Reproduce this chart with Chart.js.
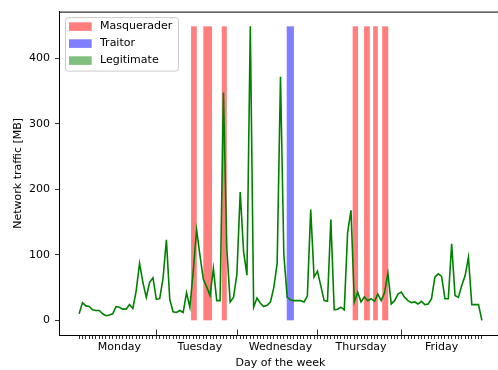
<!DOCTYPE html>
<html>
<head>
<meta charset="utf-8">
<script src="https://cdn.jsdelivr.net/npm/chart.js@4.4.1/dist/chart.umd.min.js"></script>
<style>
  html, body { margin: 0; padding: 0; background: #fff; overflow: hidden; }
  #wrap { width: 498px; height: 370px; overflow: hidden; }
</style>
</head>
<body>
<div id="wrap"><canvas id="trafficChart" width="503" height="370"></canvas></div>
<script>
// hourly traffic in MB, Monday to Friday
const traffic = [
    10, 27, 22, 21, 16, 15, 15, 10, 7, 8, 10, 21, 20, 17, 17, 24, 18, 45, 87, 58,
    35, 58, 65, 32, 33, 64, 123, 32, 13, 12, 15, 12, 42, 20, 75, 138, 99, 63, 51, 38,
    79, 30, 30, 348, 110, 28, 35, 70, 196, 105, 69, 449, 20, 34, 26, 21, 23, 28, 50, 87,
    372, 100, 35, 31, 30, 30, 30, 28, 37, 169, 66, 75, 53, 30, 29, 154, 16, 17, 20, 16,
    134, 168, 28, 43, 28, 36, 30, 33, 29, 40, 30, 42, 72, 25, 30, 40, 43, 35, 30, 27,
    28, 25, 29, 24, 25, 33, 66, 71, 67, 33, 33, 117, 38, 35, 53, 68, 96, 24, 24, 24,
    0
];
const hours = traffic.map((v, i) => i);

const dayNames = ['Monday', 'Tuesday', 'Wednesday', 'Thursday', 'Friday'];
const dayCenters = [12, 36, 60, 84, 108];
const dayBoundaries = [23, 47, 71, 96];
const yTicks = [0, 100, 200, 300, 400];

// attack windows (start hour, end hour)
const masqueraderSpans = [[33.35, 35.05], [37.0, 39.6], [42.5, 44.0], [81.5, 83.1], [84.9, 86.6], [87.6, 89.0], [90.3, 92.1]];
const traitorSpans = [[61.85, 64.0]];
const spanTop = 449;

const legendItems = [
    { label: 'Masquerader', color: 'rgba(255, 0, 0, 0.5)' },
    { label: 'Traitor', color: 'rgba(0, 0, 255, 0.5)' },
    { label: 'Legitimate', color: 'rgba(0, 128, 0, 0.5)' }
];

Chart.defaults.font.family = "'DejaVu Sans', sans-serif";
Chart.defaults.font.size = 11;
Chart.defaults.color = '#000';

const spansPlugin = {
    id: 'spans',
    beforeDatasetsDraw(chart) {
        const { ctx, chartArea, scales: { x, y } } = chart;
        ctx.save();
        ctx.beginPath();
        ctx.rect(chartArea.left, chartArea.top, chartArea.right - chartArea.left, chartArea.bottom - chartArea.top);
        ctx.clip();
        const draw = (spans, color) => {
            ctx.fillStyle = color;
            spans.forEach(([a, b]) => {
                const x1 = x.getPixelForValue(a);
                const x2 = x.getPixelForValue(b);
                const yTop = y.getPixelForValue(spanTop);
                const yBot = y.getPixelForValue(0);
                ctx.fillRect(x1, yTop, x2 - x1, yBot - yTop);
            });
        };
        draw(masqueraderSpans, legendItems[0].color);
        draw(traitorSpans, legendItems[1].color);
        ctx.restore();
    }
};

const framePlugin = {
    id: 'frame',
    afterDraw(chart) {
        const { ctx, chartArea, scales: { x } } = chart;
        ctx.save();
        ctx.strokeStyle = '#000';
        ctx.lineWidth = 1;
        // top spine (right one falls outside the picture)
        ctx.beginPath();
        ctx.moveTo(chartArea.left, chartArea.top + 0.5);
        ctx.lineTo(chartArea.right + 2, chartArea.top + 0.5);
        ctx.stroke();

        // day boundary ticks pointing inwards
        ctx.lineWidth = 0.8;
        dayBoundaries.forEach(b => {
            const px = Math.round(x.getPixelForValue(b)) + 0.5;
            ctx.beginPath();
            ctx.moveTo(px, chartArea.bottom);
            ctx.lineTo(px, chartArea.bottom - 5.5);
            ctx.stroke();
        });

        // legend box
        const bx = chartArea.left + 6, by = chartArea.top + 5.5, bw = 113, bh = 53.5;
        ctx.fillStyle = 'rgba(255, 255, 255, 0.8)';
        ctx.strokeStyle = '#cccccc';
        ctx.lineWidth = 1;
        ctx.beginPath();
        ctx.roundRect(bx + 0.5, by + 0.5, bw, bh, 3);
        ctx.fill();
        ctx.stroke();

        ctx.font = "11px 'DejaVu Sans'";
        ctx.textBaseline = 'middle';
        legendItems.forEach((item, i) => {
            const cy = by + 9.5 + i * 17;
            ctx.fillStyle = item.color;
            ctx.fillRect(bx + 4, cy - 4.3, 22.7, 8.6);
            ctx.fillStyle = '#000';
            ctx.fillText(item.label, bx + 35, cy);
        });
        ctx.restore();
    }
};

new Chart(document.getElementById('trafficChart'), {
    type: 'line',
    data: {
        labels: hours,
        datasets: [{
            label: 'Legitimate',
            data: traffic,
            borderColor: '#008000',
            borderWidth: 1.6,
            pointRadius: 0,
            tension: 0,
            fill: false
        }]
    },
    options: {
        responsive: false,
        animation: false,
        devicePixelRatio: 1,
        layout: { padding: { top: 10, right: 1, left: 0, bottom: 0 } },
        plugins: { legend: { display: false }, tooltip: { enabled: false } },
        scales: {
            x: {
                type: 'linear',
                min: -6,
                max: 126,
                afterBuildTicks: s => { s.ticks = hours.map(v => ({ value: v })); },
                afterFit: s => { s.height = 35; },
                grid: { drawOnChartArea: false, tickLength: 4, color: '#000', lineWidth: 0.8 },
                border: { color: '#000', width: 1 },
                ticks: {
                    autoSkip: false,
                    maxRotation: 0,
                    padding: 2,
                    callback: v => {
                        const k = dayCenters.indexOf(v);
                        return k >= 0 ? dayNames[k] : '';
                    }
                },
                title: { display: true, text: 'Day of the week', padding: 0 }
            },
            y: {
                min: -22.45,
                max: 471.45,
                afterBuildTicks: s => { s.ticks = yTicks.map(v => ({ value: v })); },
                afterFit: s => { s.width = 59; },
                grid: { drawOnChartArea: false, tickLength: 4, color: '#000', lineWidth: 0.8 },
                border: { color: '#000', width: 1 },
                ticks: { padding: 5 },
                title: { display: true, text: 'Network traffic [MB]', padding: { top: 12, bottom: 0 } }
            }
        }
    },
    plugins: [spansPlugin, framePlugin]
});
</script>
</body>
</html>
